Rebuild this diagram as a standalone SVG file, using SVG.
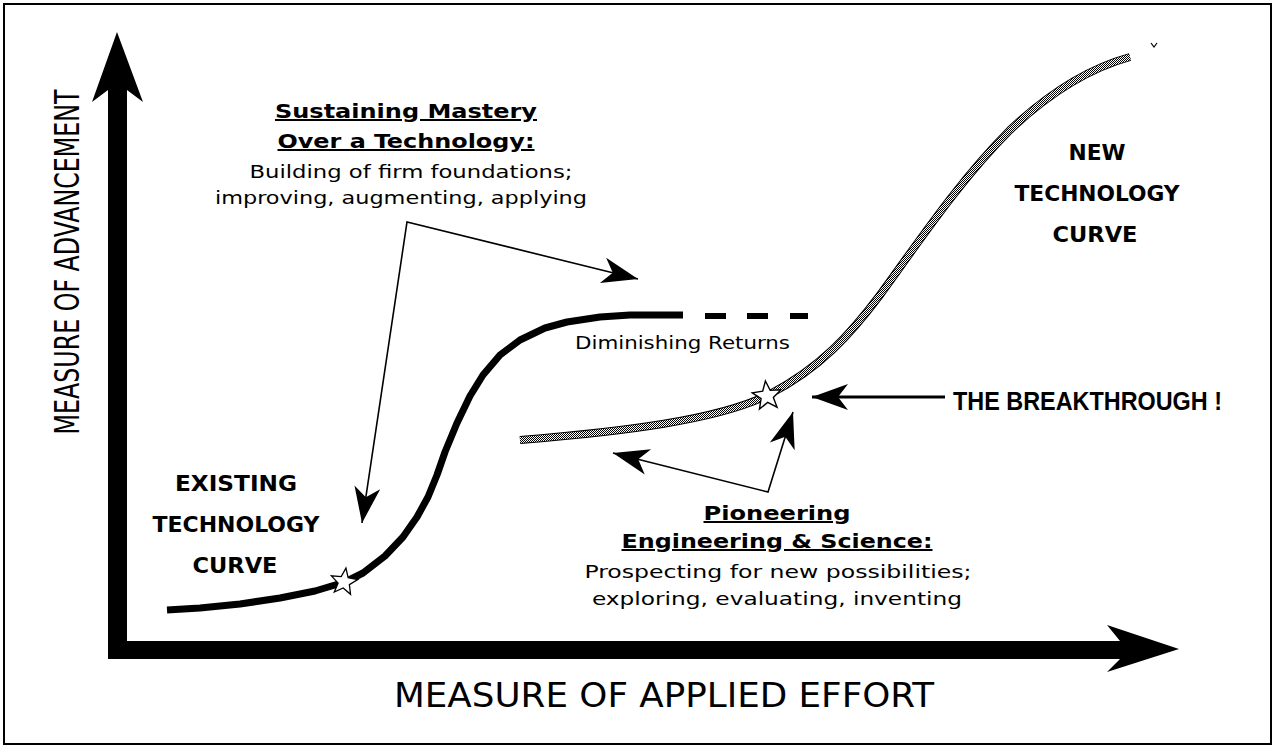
<svg xmlns="http://www.w3.org/2000/svg" xmlns:xlink="http://www.w3.org/1999/xlink" width="1276" height="749" viewBox="0 0 1276 749">
<style>
  text { fill:#000; }
  .body { font-family:"DejaVu Sans Condensed","DejaVu Sans","Liberation Sans",sans-serif; font-size:18px; }
  .title { font-family:"DejaVu Sans Condensed","DejaVu Sans","Liberation Sans",sans-serif; font-size:20px; font-weight:bold; text-decoration:underline; }
  .big { font-family:"DejaVu Sans Condensed","DejaVu Sans","Liberation Sans",sans-serif; font-size:22px; font-weight:bold; }
  .brk { font-family:"Liberation Sans",Arial,sans-serif; font-size:25px; font-weight:bold; }
  .axis { font-family:"DejaVu Sans Condensed","Liberation Sans",sans-serif; font-size:34px; }
  .conn { stroke:#000; stroke-width:1.6; fill:none; }
  .star { fill:#fff; stroke:#000; stroke-width:1.3; }
</style>
<defs>
  <pattern id="hatch" width="2" height="2" patternUnits="userSpaceOnUse">
    <rect width="2" height="2" fill="#fff"/>
    <rect width="1" height="1" fill="#000"/>
    <rect x="1" y="1" width="1" height="1" fill="#000"/>
  </pattern>
  <marker id="head" markerUnits="userSpaceOnUse" viewBox="-38 -14 40 28" refX="0" refY="0" markerWidth="40" markerHeight="28" orient="auto-start-reverse" overflow="visible">
    <path d="M0,0 L-36,-13 L-26,0 L-36,13 Z" fill="#000"/>
  </marker>
  <path id="starShape" d="M0,-14 L3.5,-4.9 L13.3,-4.3 L5.7,1.9 L8.2,11.3 L0,6 L-8.2,11.3 L-5.7,1.9 L-13.3,-4.3 L-3.5,-4.9 Z"/>
  <path id="newCurve" d="M520,440 C620,432 720,420 770,394 C820,368 850,335 880,295 C920,240 960,180 1010,130 C1050,92 1090,68 1130,57"/>
</defs>

<rect x="0" y="0" width="1276" height="749" fill="#fff"/>
<rect id="frame" x="4" y="4" width="1267" height="740" fill="none" stroke="#000" stroke-width="2"/>

<g id="axes">
  <path d="M117,32 L143,102 L127,90 L127,641 L1120,641 L1107,625 L1179,649 L1107,672 L1120,659 L108,659 L108,90 L92,102 Z" fill="#000"/>
  <text class="axis" transform="translate(79,262) rotate(-90)" text-anchor="middle" textLength="345" lengthAdjust="spacingAndGlyphs">MEASURE OF ADVANCEMENT</text>
  <text class="axis" x="664" y="707" text-anchor="middle" textLength="540" lengthAdjust="spacingAndGlyphs">MEASURE OF APPLIED EFFORT</text>
</g>

<g id="existing-curve">
  <polyline points="167,610 200,608 240,604 280,598 315,591 345,582 363,573 385,556 403,537 417,517 428,497 437,475 445,452 457,423 470,396 483,375 500,355 520,340 545,328 567,322 600,317 630,315 683,315" fill="none" stroke="#000" stroke-width="7" stroke-linejoin="round"/>
  <path d="M705,316 H726 M747,316 H768 M790,316 H808" stroke="#000" stroke-width="6"/>
  <use xlink:href="#starShape" class="star" transform="translate(344,582) rotate(8)"/>
  <text class="body" x="575" y="349" textLength="215" lengthAdjust="spacingAndGlyphs">Diminishing Returns</text>
</g>

<g id="new-curve">
  <use xlink:href="#newCurve" fill="none" stroke="#000" stroke-width="8"/>
  <use xlink:href="#newCurve" fill="none" stroke="url(#hatch)" stroke-width="6"/>
  <path d="M1151,43 L1154,47 L1157,43" fill="none" stroke="#000" stroke-width="1.2"/>
  <use xlink:href="#starShape" class="star" transform="translate(767,396) rotate(-6) scale(1.08)"/>
</g>

<g id="label-existing" text-anchor="middle">
  <text class="big" x="236" y="491" textLength="122" lengthAdjust="spacingAndGlyphs">EXISTING</text>
  <text class="big" x="236" y="532" textLength="167" lengthAdjust="spacingAndGlyphs">TECHNOLOGY</text>
  <text class="big" x="235" y="573" textLength="85" lengthAdjust="spacingAndGlyphs">CURVE</text>
</g>

<g id="label-new" text-anchor="middle">
  <text class="big" x="1097" y="160" textLength="57" lengthAdjust="spacingAndGlyphs">NEW</text>
  <text class="big" x="1097" y="201" textLength="165" lengthAdjust="spacingAndGlyphs">TECHNOLOGY</text>
  <text class="big" x="1095" y="242" textLength="85" lengthAdjust="spacingAndGlyphs">CURVE</text>
</g>

<g id="label-sustaining" text-anchor="middle">
  <text class="title" x="406" y="118" textLength="262" lengthAdjust="spacingAndGlyphs">Sustaining Mastery</text>
  <text class="title" x="406" y="148" textLength="257" lengthAdjust="spacingAndGlyphs">Over a Technology:</text>
  <text class="body" x="411" y="178" textLength="323" lengthAdjust="spacingAndGlyphs">Building of firm foundations;</text>
  <text class="body" x="401" y="204" textLength="372" lengthAdjust="spacingAndGlyphs">improving, augmenting, applying</text>
</g>

<g id="label-pioneering" text-anchor="middle">
  <text class="title" x="777" y="520" textLength="147" lengthAdjust="spacingAndGlyphs">Pioneering</text>
  <text class="title" x="777" y="548" textLength="311" lengthAdjust="spacingAndGlyphs">Engineering &amp; Science:</text>
  <text class="body" x="778" y="578" textLength="387" lengthAdjust="spacingAndGlyphs">Prospecting for new possibilities;</text>
  <text class="body" x="777" y="605" textLength="370" lengthAdjust="spacingAndGlyphs">exploring, evaluating, inventing</text>
</g>

<g id="label-breakthrough">
  <text class="brk" x="953" y="410" textLength="269" lengthAdjust="spacingAndGlyphs">THE BREAKTHROUGH !</text>
</g>

<g id="connectors">
  <polyline class="conn" points="362,523 407,222 638,279" marker-start="url(#head)" marker-end="url(#head)"/>
  <polyline class="conn" points="613,453 768,492 793,412" marker-start="url(#head)" marker-end="url(#head)"/>
  <line x1="945" y1="397" x2="812" y2="397" stroke="#000" stroke-width="3" marker-end="url(#head)"/>
</g>
</svg>
